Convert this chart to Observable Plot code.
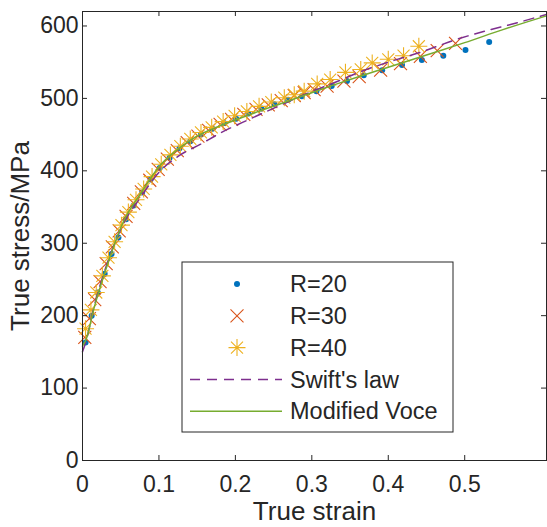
<!DOCTYPE html>
<html><head><meta charset="utf-8">
<script src="https://cdn.jsdelivr.net/npm/d3@7"></script>
<script src="https://cdn.jsdelivr.net/npm/@observablehq/plot@0.6"></script>
<style>body{margin:0;background:#fff;}</style>
</head><body><div id="chart"></div>
<script>
// ---- data ----
const r20Strain = [0.004,0.012,0.02,0.029,0.038,0.047,0.057,0.067,0.078,0.089,0.101,0.114,0.127,0.141,0.155,0.17,0.185,0.201,0.217,0.234,0.251,0.269,0.287,0.306,0.326,0.346,0.368,0.392,0.418,0.444,0.472,0.501,0.532];
const r20Stress = [163,200,232,258,285,308,333,352,370,388,404,418,431,441,450,458,466,472,479,486,492,498,503,510,517,524,532,539,546,553,559,567,578];

const r30Strain = [0.003,0.009,0.016,0.023,0.031,0.039,0.048,0.057,0.067,0.077,0.088,0.099,0.111,0.124,0.137,0.151,0.165,0.18,0.195,0.211,0.227,0.243,0.26,0.277,0.29,0.303,0.32,0.342,0.362,0.39,0.416,0.442,0.464,0.488];
const r30Stress = [170,196,222,247,272,295,317,337,355,371,387,402,416,428,439,448,456,464,471,478,485,491,497,504,508,512,517,524,530,539,548,558,566,576];

const r40Strain = [0.004,0.011,0.018,0.026,0.034,0.042,0.051,0.06,0.07,0.08,0.091,0.103,0.115,0.128,0.141,0.155,0.169,0.184,0.199,0.215,0.231,0.247,0.264,0.277,0.29,0.307,0.324,0.344,0.364,0.379,0.4,0.42,0.44];
const r40Stress = [182,208,232,255,280,302,325,343,360,375,392,409,422,434,444,453,460,468,476,482,489,495,501,505,510,520,526,536,540,549,554,559,572];

const swiftStrain = [0,0.005,0.015,0.03,0.054,0.075,0.102,0.125,0.155,0.18,0.22,0.26,0.292,0.33,0.364,0.4,0.44,0.494,0.53,0.56,0.607];
const swiftStress = [150,166,212,265,328,362,400,420,437,452,472,491,506,522,537,550,563,583,594,602,616];

const voceStrain = [0,0.005,0.015,0.03,0.054,0.075,0.102,0.125,0.148,0.18,0.22,0.26,0.292,0.33,0.364,0.4,0.45,0.5,0.55,0.607];
const voceStress = [158,168,210,262,331,367,408,430,447,462,478,493,505,519,531,543,560,577,595,614];

const xTicks = [0,0.1,0.2,0.3,0.4,0.5];
const xTickLabels = ["0","0.1","0.2","0.3","0.4","0.5"];
const yTicks = [0,100,200,300,400,500,600];
const yTickLabels = ["0","100","200","300","400","500","600"];

const seriesNames = ["R=20","R=30","R=40","Swift's law","Modified Voce"];
const colors = ["#0072BD","#D95319","#EDB120","#7E2F8E","#77AC30"];

const toRows = (xs, ys) => xs.map((x, i) => ({x, y: ys[i]}));
const r20 = toRows(r20Strain, r20Stress);
const r30 = toRows(r30Strain, r30Stress);
const r40 = toRows(r40Strain, r40Stress);
const swift = toRows(swiftStrain, swiftStress);
const voce = toRows(voceStrain, voceStress);

// MATLAB-like marker shapes (size = r*r*PI in Plot)
const asterisk8 = {draw(ctx, size){ const r = Math.sqrt(size/Math.PI), d = r*Math.SQRT1_2;
  ctx.moveTo(0,-r); ctx.lineTo(0,r); ctx.moveTo(-r,0); ctx.lineTo(r,0);
  ctx.moveTo(-d,-d); ctx.lineTo(d,d); ctx.moveTo(-d,d); ctx.lineTo(d,-d);}};
const cross = {draw(ctx, size){ const r = Math.sqrt(size/Math.PI);
  ctx.moveTo(-r,-r); ctx.lineTo(r,r); ctx.moveTo(-r,r); ctx.lineTo(r,-r);}};

const W = 547, H = 527, mL = 82, mR = 1, mT = 11, mB = 67;
const fw = W - mL - mR, fh = H - mT - mB;
const axisColor = "#262626";

const svg = Plot.plot({
  width: W, height: H,
  marginLeft: mL, marginRight: mR, marginTop: mT, marginBottom: mB,
  style: {fontFamily: "'Liberation Sans', Arial, sans-serif", fontSize: "23px", color: axisColor, background: "#fff"},
  x: {domain: [0, 0.607]},
  y: {domain: [0, 620]},
  marks: [
    Plot.dot(r20, {x: "x", y: "y", r: 3, fill: colors[0], stroke: "none", symbol: "circle"}),
    Plot.dot(r30, {x: "x", y: "y", r: 6.5, stroke: colors[1], strokeWidth: 1.1, fill: "none", symbol: cross}),
    Plot.dot(r40, {x: "x", y: "y", r: 8.5, stroke: colors[2], strokeWidth: 1.1, fill: "none", symbol: asterisk8}),
    Plot.line(swift, {x: "x", y: "y", stroke: colors[3], strokeWidth: 1.5, strokeDasharray: "10,7", curve: "monotone-x"}),
    Plot.line(voce, {x: "x", y: "y", stroke: colors[4], strokeWidth: 1.5, curve: "monotone-x"}),
    Plot.frame({stroke: axisColor, strokeWidth: 1}),
    // inward ticks on all four sides
    Plot.tickX(xTicks, {x: d => d, stroke: axisColor, insetTop: fh - 5}),
    Plot.tickX(xTicks, {x: d => d, stroke: axisColor, insetBottom: fh - 5}),
    Plot.tickY(yTicks, {y: d => d, stroke: axisColor, insetRight: fw - 5}),
    Plot.tickY(yTicks, {y: d => d, stroke: axisColor, insetLeft: fw - 5}),
    Plot.axisX({ticks: xTicks, tickSize: 0, tickPadding: 15, tickFormat: (d, i) => xTickLabels[i], label: null, fill: axisColor}),
    Plot.axisY({ticks: yTicks, tickSize: 0, tickPadding: 4, tickFormat: (d, i) => yTickLabels[i], label: null, fill: axisColor}),
    Plot.text(["True strain"], {text: d => d, frameAnchor: "bottom", textAnchor: "middle", lineAnchor: "middle", dy: 51, fontSize: 26, fill: axisColor}),
    Plot.text(["True stress/MPa"], {text: d => d, frameAnchor: "left", textAnchor: "middle", lineAnchor: "middle", dx: -62, rotate: -90, fontSize: 26, fill: axisColor})
  ]
});

// Legend (inside the axes, MATLAB style)
const g = d3.select(svg).append("g")
  .attr("font-family", "'Liberation Sans', Arial, sans-serif")
  .attr("text-anchor", "start");
const lx = 182, ly = 262, lw = 271, lh = 170;
g.append("rect").attr("x", lx).attr("y", ly).attr("width", lw).attr("height", lh)
  .attr("fill", "#fff").attr("stroke", axisColor).attr("stroke-width", 1);
const rowY = i => ly + 22 + i * 31.8;
const symX = 237, lineX1 = 190, lineX2 = 282, textX = 290;
seriesNames.forEach((name, i) => {
  const y = rowY(i);
  if (i === 0) {
    g.append("circle").attr("cx", symX).attr("cy", y).attr("r", 3).attr("fill", colors[0]);
  } else if (i === 1 || i === 2) {
    const sym = i === 1 ? cross : asterisk8, r = i === 1 ? 6.5 : 8.5;
    g.append("path").attr("transform", `translate(${symX},${y})`)
      .attr("d", d3.symbol().type(sym).size(r * r * Math.PI)())
      .attr("fill", "none").attr("stroke", colors[i]).attr("stroke-width", 1.1);
  } else {
    g.append("line").attr("x1", lineX1).attr("x2", lineX2).attr("y1", y).attr("y2", y)
      .attr("stroke", colors[i]).attr("stroke-width", 1.5)
      .attr("stroke-dasharray", i === 3 ? "10,7" : null);
  }
  g.append("text").attr("x", textX).attr("y", y).attr("dy", "0.35em")
    .attr("text-anchor", "start")
    .attr("font-size", 23.5).attr("fill", axisColor).text(name);
});

document.getElementById("chart").appendChild(svg);
</script>
</body></html>
